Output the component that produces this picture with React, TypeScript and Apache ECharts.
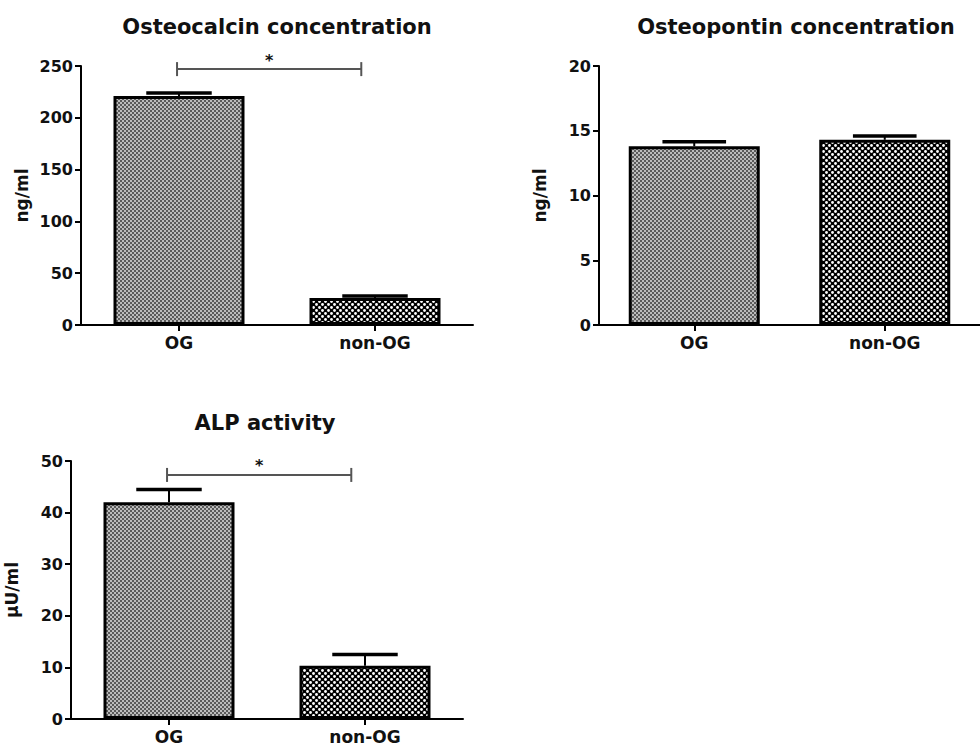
import React, { useEffect, useRef } from 'react';
import * as echarts from 'echarts';

const CATEGORIES = ['OG', 'non-OG'];

const OSTEOCALCIN_MEAN = [221, 26];
const OSTEOCALCIN_ERR = [3, 2];
const OSTEOCALCIN_TICKS = { max: 250, interval: 50 };
const OSTEOCALCIN_SIG_Y = 247;

const OSTEOPONTIN_MEAN = [13.8, 14.3];
const OSTEOPONTIN_ERR = [0.35, 0.3];
const OSTEOPONTIN_TICKS = { max: 20, interval: 5 };

const ALP_MEAN = [42, 10.3];
const ALP_ERR = [2.5, 2.2];
const ALP_TICKS = { max: 50, interval: 10 };
const ALP_SIG_Y = 47.3;

const TITLES = ['Osteocalcin concentration', 'Osteopontin concentration', 'ALP activity'];
const Y_NAMES = ['ng/ml', 'ng/ml', 'μU/ml'];

const FONT = '"DejaVu Sans", "Liberation Sans", Arial, sans-serif';

function makeFinePattern() {
  const c = document.createElement('canvas');
  c.width = 4;
  c.height = 4;
  const g = c.getContext('2d')!;
  g.fillStyle = '#bcbcbc';
  g.fillRect(0, 0, 4, 4);
  g.fillStyle = '#5a5a5a';
  g.fillRect(0, 0, 2, 2);
  g.fillRect(2, 2, 2, 2);
  return c;
}

function makeDotPattern() {
  const c = document.createElement('canvas');
  c.width = 6;
  c.height = 6;
  const g = c.getContext('2d')!;
  g.fillStyle = '#000';
  g.fillRect(0, 0, 6, 6);
  g.fillStyle = '#fff';
  g.beginPath();
  g.arc(1.5, 1.5, 1.4, 0, Math.PI * 2);
  g.fill();
  g.beginPath();
  g.arc(4.5, 4.5, 1.4, 0, Math.PI * 2);
  g.fill();
  return c;
}

export default function App() {
  const ref = useRef<HTMLDivElement>(null);

  useEffect(() => {
    document.body.style.margin = '0';
    if (!ref.current) return;
    const chart = echarts.init(ref.current, undefined, { renderer: 'svg' });

    const fine = makeFinePattern();
    const dots = makeDotPattern();
    const patterns = [
      { image: fine, repeat: 'repeat' },
      { image: dots, repeat: 'repeat' },
    ];

    const grids = [
      { left: 81, top: 66, width: 392, height: 259 },
      { left: 599, top: 66, width: 392, height: 259 },
      { left: 71, top: 461, width: 392, height: 258 },
    ];
    const titlePos = [
      [277, 27],
      [796, 27],
      [265, 423],
    ];
    const means = [OSTEOCALCIN_MEAN, OSTEOPONTIN_MEAN, ALP_MEAN];
    const errs = [OSTEOCALCIN_ERR, OSTEOPONTIN_ERR, ALP_ERR];
    const ticks = [OSTEOCALCIN_TICKS, OSTEOPONTIN_TICKS, ALP_TICKS];
    const sigs: (number | null)[] = [OSTEOCALCIN_SIG_Y, null, ALP_SIG_Y];

    const xAxis = grids.map((_, i) => ({
      type: 'category',
      gridIndex: i,
      data: CATEGORIES,
      axisLine: { show: true, lineStyle: { color: '#000', width: 2 } },
      axisTick: { show: true, alignWithLabel: true, length: 6, lineStyle: { color: '#000', width: 2 } },
      axisLabel: { color: '#111', fontSize: 17, fontWeight: 'bold', fontFamily: FONT, margin: 9 },
      splitLine: { show: false },
    }));

    const yAxis = grids.map((_, i) => ({
      type: 'value',
      gridIndex: i,
      min: 0,
      max: ticks[i].max,
      interval: ticks[i].interval,
      name: Y_NAMES[i],
      nameLocation: 'middle',
      nameGap: 51,
      nameTextStyle: { color: '#111', fontSize: 17, fontWeight: 'bold', fontFamily: FONT },
      axisLine: { show: true, lineStyle: { color: '#000', width: 2 } },
      axisTick: { show: true, length: 6, lineStyle: { color: '#000', width: 2 } },
      axisLabel: { color: '#111', fontSize: 16, fontWeight: 'bold', fontFamily: FONT, margin: 8 },
      splitLine: { show: false },
    }));

    const series: any[] = [];
    grids.forEach((_, i) => {
      series.push({
        type: 'bar',
        xAxisIndex: i,
        yAxisIndex: i,
        barWidth: 131,
        data: means[i].map((v, k) => ({
          value: v,
          itemStyle: { color: patterns[k], borderColor: '#000', borderWidth: 3 },
        })),
        z: 2,
      });
      series.push({
        type: 'custom',
        xAxisIndex: i,
        yAxisIndex: i,
        z: 4,
        encode: { x: 0, y: 1 },
        data: means[i].map((v, k) => [k, v, errs[i][k]]),
        renderItem: (params: any, api: any) => {
          const xi = api.value(0);
          const mean = api.value(1);
          const err = api.value(2);
          const base = api.coord([xi, mean]);
          const top = api.coord([xi, mean + err]);
          const band = api.size([1, 0])[0];
          const half = band * 0.167;
          return {
            type: 'group',
            children: [
              {
                type: 'line',
                shape: { x1: base[0], y1: base[1], x2: top[0], y2: top[1] },
                style: { stroke: '#000', lineWidth: 2 },
              },
              {
                type: 'line',
                shape: { x1: top[0] - half, y1: top[1], x2: top[0] + half, y2: top[1] },
                style: { stroke: '#000', lineWidth: 3.5 },
              },
            ],
          };
        },
      });
      const sy = sigs[i];
      if (sy !== null) {
        series.push({
          type: 'custom',
          xAxisIndex: i,
          yAxisIndex: i,
          z: 5,
          clip: false,
          encode: { x: 0, y: 1 },
          data: [[0, sy, 1]],
          renderItem: (params: any, api: any) => {
            const y = api.value(1);
            const p0 = api.coord([api.value(0), y]);
            const p1 = api.coord([api.value(2), y]);
            const band = api.size([1, 0])[0];
            const x0 = p0[0] - band * 0.01;
            const x1 = p1[0] - band * 0.07;
            const yy = p0[1];
            const col = '#555';
            return {
              type: 'group',
              children: [
                { type: 'line', shape: { x1: x0, y1: yy, x2: x1, y2: yy }, style: { stroke: col, lineWidth: 2 } },
                { type: 'line', shape: { x1: x0, y1: yy - 7, x2: x0, y2: yy + 7 }, style: { stroke: col, lineWidth: 2 } },
                { type: 'line', shape: { x1: x1, y1: yy - 7, x2: x1, y2: yy + 7 }, style: { stroke: col, lineWidth: 2 } },
                {
                  type: 'text',
                  x: (x0 + x1) / 2,
                  y: yy - 9,
                  style: {
                    text: '*',
                    fill: '#111',
                    font: 'bold 16px ' + FONT,
                    textAlign: 'center',
                    align: 'center',
                    textVerticalAlign: 'middle',
                    verticalAlign: 'middle',
                  },
                },
              ],
            };
          },
        });
      }
    });

    const graphic = TITLES.map((t, i) => ({
      type: 'text',
      x: titlePos[i][0],
      y: titlePos[i][1],
      style: {
        text: t,
        fill: '#111',
        font: 'bold 21px ' + FONT,
        textAlign: 'center',
        align: 'center',
        textVerticalAlign: 'middle',
        verticalAlign: 'middle',
      },
    }));

    chart.setOption({
      animation: false,
      backgroundColor: '#fff',
      grid: grids,
      xAxis,
      yAxis,
      series,
      graphic,
    });

    return () => {
      chart.dispose();
    };
  }, []);

  return <div ref={ref} style={{ width: 980, height: 747 }} />;
}
